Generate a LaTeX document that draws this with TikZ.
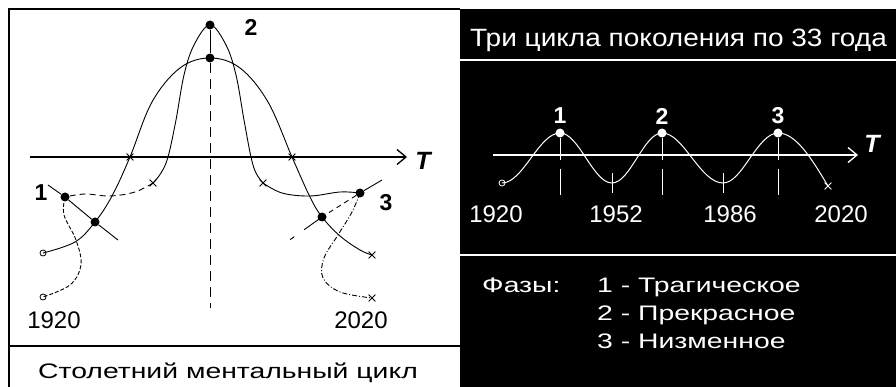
\documentclass[tikz,border=0pt]{standalone}
\usepackage{fontspec}
\setmainfont{Liberation Sans}
\newfontfamily\widefont[FakeStretch=1.35]{Liberation Sans}
\newfontfamily\titlefont[FakeStretch=1.12]{Liberation Sans}
\usetikzlibrary{positioning, arrows.meta, shapes.misc}

\begin{document}
\begin{tikzpicture}[x=1pt, y=-1pt,
    dot/.style={circle, fill=black, inner sep=0pt, minimum size=9pt},
    hole/.style={circle, draw=black, fill=white, line width=0.8pt,
                 inner sep=0pt, minimum size=6pt},
    xmark/.style={cross out, draw=black, line width=0.8pt,
                  inner sep=0pt, minimum size=6pt},
    wdot/.style={circle, fill=white, inner sep=0pt, minimum size=9pt},
    whole/.style={circle, draw=white, fill=black, line width=0.8pt,
                  inner sep=0pt, minimum size=6pt},
    wxmark/.style={cross out, draw=white, line width=0.8pt,
                   inner sep=0pt, minimum size=6pt},
    curve/.style={line width=0.9pt},
    axis/.style={line width=1.3pt, -{Straight Barb[length=9pt, width=15pt]}},
    ttl/.style={font=\titlefont\fontsize{25}{30}\selectfont, text=white,
                anchor=base west, inner sep=0pt},
    yr/.style={font=\fontsize{24}{28}\selectfont, anchor=base, inner sep=0pt},
    num/.style={font=\bfseries\fontsize{23}{26}\selectfont, inner sep=0pt},
    tlbl/.style={font=\bfseries\itshape\fontsize{25}{28}\selectfont, inner sep=0pt},
    phase/.style={font=\widefont\fontsize{21}{24}\selectfont, text=white,
                  anchor=base west, inner sep=0pt}
]
  \useasboundingbox (0,0) rectangle (896,387);

  % left panel frame
  \draw[line width=2pt] (9,387) -- (9,9) -- (460,9);
  \draw[line width=1.5pt] (9,346) -- (460,346);

  % right panel
  \fill[black] (460,9) rectangle (896,387);
  \draw[white, line width=1.5pt] (460,60) -- (896,60);
  \draw[white, line width=1.5pt] (460,255) -- (896,255);

  % left: axis
  \coordinate (axL) at (30,157);
  \coordinate (axR) at (407,157);
  \draw[axis] (axL) -- (axR);
  \node[tlbl] (tL) at (423,161) {T};

  % left: points
  \node[dot] (pTop) at (210,25) {};
  \node[dot] (pMid) at (210,58) {};
  \node[dot] (pOne) at (65,197) {};
  \node[dot] (pLowL) at (95,222) {};
  \node[dot] (pThree) at (360,193) {};
  \node[dot] (pLowR) at (322,217) {};
  \node[hole] (oA) at (43,253) {};
  \node[hole] (oB) at (43,297) {};
  \node[xmark] (xL) at (130,157) {};
  \node[xmark] (xR) at (292,157) {};
  \node[xmark] (xLL) at (153,183) {};
  \node[xmark] (xRR) at (263,183) {};
  \node[xmark] (xE1) at (372,255) {};
  \node[xmark] (xE2) at (372,298) {};
  \coordinate (vEnd) at (210,308);
  \coordinate (tL1) at (48,185);
  \coordinate (tL2) at (118,240);
  \coordinate (tR1) at (382,180);
  \coordinate (tR2) at (284,244);

  \node[num] (nOne) at (41,193) {1};
  \node[num] (nTwo) at (251,27) {2};
  \node[num] (nThree) at (386,203) {3};

  % centre line
  \draw[line width=1pt] (pTop) -- (pMid);
  \draw[line width=1pt, dash pattern=on 10pt off 6pt] (pMid) -- (vEnd);

  % broad curve
  \draw[curve] plot[smooth, tension=0.6] coordinates {(oA.center) (75,242)
    (pLowL.center) (112,196) (xL.center) (152,102) (180,68) (pMid.center)
    (240,68) (268,102) (xR.center) (310,197) (pLowR.center) (340,236)
    (360,250) (xE1.center)};
  % steep curve
  \draw[curve] plot[smooth, tension=0.6] coordinates {(xLL.center) (161,173)
    (168,157) (176,120) (184,75) (194,45) (pTop.center) (226,45) (236,75)
    (244,120) (251,157) (256,173) (xRR.center)};
  \draw[curve, dash pattern=on 6pt off 4pt] plot[smooth, tension=0.6]
    coordinates {(xLL.center) (135,192) (110,196) (85,194) (pOne.center)};
  \draw[curve, dash pattern=on 4pt off 2pt] plot[smooth, tension=0.6]
    coordinates {(pOne.center) (64,215) (76,240) (81,265) (70,285) (oB.center)};
  \draw[curve] plot[smooth, tension=0.6]
    coordinates {(xRR.center) (282,193) (310,196) (340,192) (pThree.center)};
  \draw[curve, dash pattern=on 5pt off 2pt on 1pt off 2pt] plot[smooth, tension=0.6]
    coordinates {(pThree.center) (352,212) (338,235) (324,258) (323,278)
    (340,292) (xE2.center)};

  % tangents
  \draw[curve] (tL1) -- (pOne) -- (pLowL) -- (tL2);
  \draw[curve] (tR1) -- (pThree);
  \draw[curve, dash pattern=on 5pt off 4pt] (pThree) -- (pLowR);
  \draw[curve, dash pattern=on 22pt off 12pt on 5pt off 20pt] (pLowR.center) -- (tR2);

  \node[yr] (yL1) at (54,328) {1920};
  \node[yr] (yL2) at (361,328) {2020};
  \node[font=\widefont\fontsize{21}{24}\selectfont, anchor=base, inner sep=0pt]
    (cap) at (228,378) {Столетний ментальный цикл};

  % right: title
  \node[ttl] (title) at (470,47) {Три цикла поколения по 33 года};

  % right: wave
  \coordinate (waL) at (493,155);
  \coordinate (waR) at (858,155);
  \draw[axis, white] (waL) -- (waR);
  \node[tlbl, text=white] (tR) at (872,144) {T};

  \node[whole] (wS) at (502,183) {};
  \node[wxmark] (wE) at (828,186) {};
  \foreach \n/\x in {1/560, 2/662, 3/778} {
    \node[wdot] (pk\n) at (\x,133) {};
    \coordinate (pkb\n) at (\x,195);
    \draw[white, line width=1pt, dash pattern=on 22pt off 9pt on 60pt] (pk\n) -- (pkb\n);
    \node[num, text=white] (lb\n) at (\x,116) {\n};
  }
  \foreach \n/\x in {1/612, 2/723} {
    \coordinate (tr\n) at (\x,183);
    \draw[white, line width=1pt] (\x,173) -- (\x,193);
  }
  \draw[white, line width=1pt] (wS) cos (531,158) sin (pk1.center)
    cos (586,158) sin (tr1) cos (637,158) sin (pk2.center)
    cos (692,158) sin (tr2) cos (750,158) sin (pk3.center)
    cos (wE.center);

  \node[yr, text=white] (y1) at (496,223) {1920};
  \node[yr, text=white] (y2) at (616,223) {1952};
  \node[yr, text=white] (y3) at (730,223) {1986};
  \node[yr, text=white] (y4) at (841,223) {2020};

  % right: phases
  \node[phase] (ph) at (482,292) {Фазы:};
  \node[phase] (ph1) at (597,292) {1 - Трагическое};
  \node[phase] (ph2) at (597,320) {2 - Прекрасное};
  \node[phase] (ph3) at (597,348) {3 - Низменное};
\end{tikzpicture}
\end{document}
